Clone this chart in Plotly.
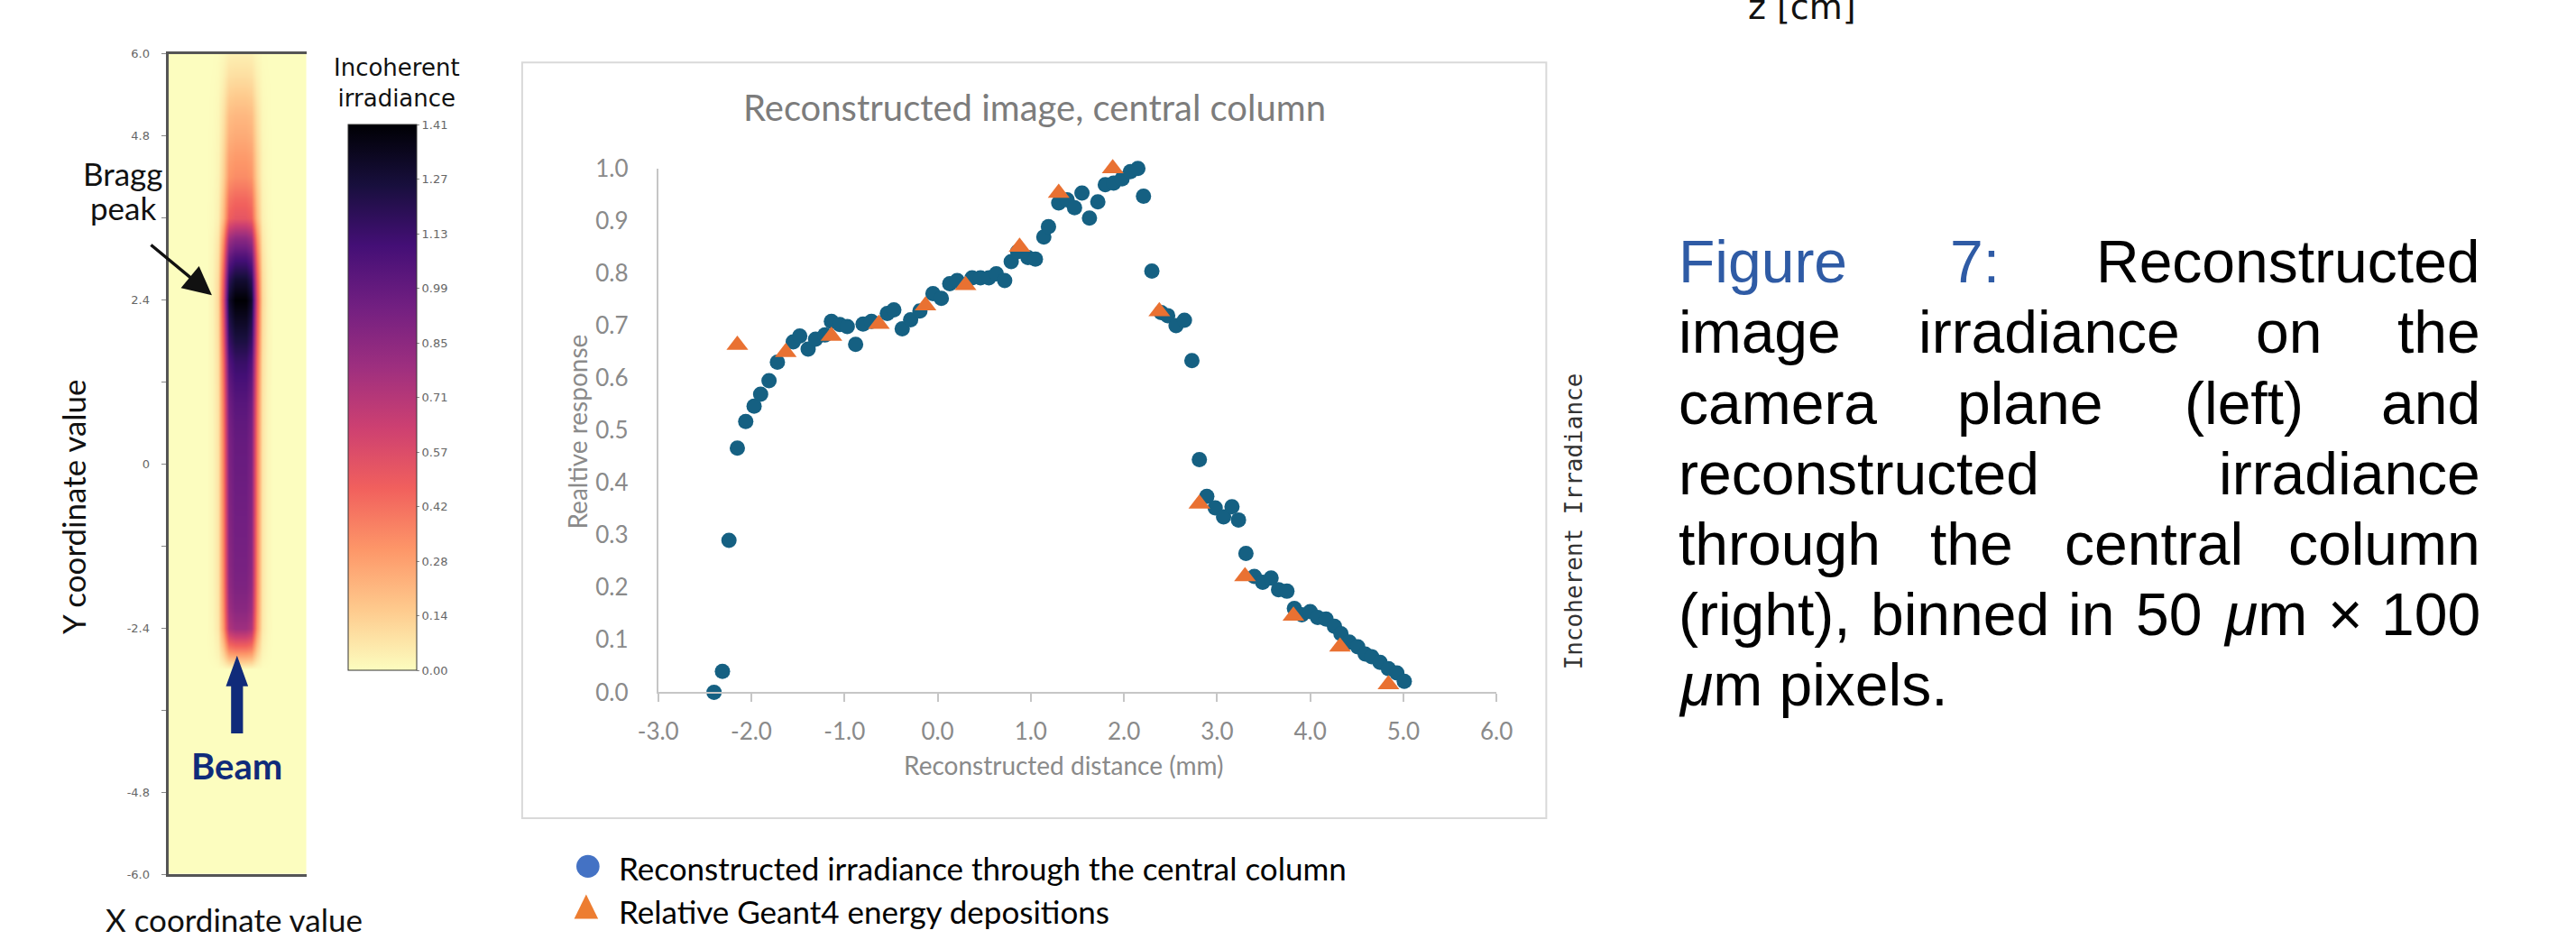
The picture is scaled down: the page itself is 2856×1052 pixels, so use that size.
import numpy as np
import plotly.graph_objects as go

W, H = 2856, 1052

# ---------------- data ----------------
# Right panel: reconstructed irradiance through the central column
recon_x = [-2.40, -2.31, -2.24, -2.15, -2.06, -1.97, -1.90, -1.81, -1.72, -1.55,
           -1.48, -1.39, -1.31, -1.21, -1.14, -1.05, -0.97, -0.88, -0.80, -0.71,
           -0.54, -0.47, -0.38, -0.29, -0.19, -0.05, 0.04, 0.13, 0.21, 0.37,
           0.46, 0.55, 0.63, 0.72, 0.79, 0.86, 0.97, 1.05, 1.14, 1.19,
           1.30, 1.39, 1.47, 1.55, 1.63, 1.72, 1.80, 1.89, 1.98, 2.07,
           2.15, 2.21, 2.30, 2.40, 2.47, 2.56, 2.65, 2.73, 2.81, 2.89,
           2.98, 3.07, 3.16, 3.23, 3.31, 3.40, 3.49, 3.58, 3.66, 3.75,
           3.83, 3.91, 4.00, 4.08, 4.17, 4.26, 4.33, 4.42, 4.51, 4.59,
           4.66, 4.75, 4.84, 4.93, 5.01]
recon_y = [0.000, 0.040, 0.290, 0.466, 0.517, 0.546, 0.569, 0.595, 0.630, 0.669,
           0.680, 0.655, 0.674, 0.682, 0.708, 0.702, 0.698, 0.664, 0.703, 0.708,
           0.723, 0.730, 0.694, 0.711, 0.728, 0.761, 0.752, 0.780, 0.786, 0.791,
           0.791, 0.791, 0.799, 0.786, 0.822, 0.841, 0.830, 0.827, 0.869, 0.889,
           0.934, 0.940, 0.925, 0.953, 0.905, 0.936, 0.969, 0.972, 0.980, 0.994,
           1.000, 0.947, 0.804, 0.725, 0.719, 0.700, 0.710, 0.633, 0.444, 0.374,
           0.352, 0.335, 0.354, 0.329, 0.265, 0.221, 0.210, 0.218, 0.196, 0.193,
           0.160, 0.148, 0.154, 0.143, 0.140, 0.126, 0.112, 0.096, 0.087, 0.073,
           0.068, 0.057, 0.045, 0.037, 0.021]

# Relative Geant4 energy depositions
geant_x = [-2.15, -1.63, -1.14, -0.63, -0.13, 0.30, 0.88, 1.30, 1.88, 2.38,
           2.81, 3.30, 3.82, 4.32, 4.84]
geant_y = [0.663, 0.649, 0.680, 0.703, 0.738, 0.777, 0.850, 0.953, 1.000, 0.727,
           0.360, 0.221, 0.146, 0.087, 0.015]

dist_ticks = [-3, -2, -1, 0, 1, 2, 3, 4, 5, 6]
dist_tick_labels = ["-3.0", "-2.0", "-1.0", "0.0", "1.0", "2.0", "3.0", "4.0", "5.0", "6.0"]
resp_ticks = [0.0, 0.1, 0.2, 0.3, 0.4, 0.5, 0.6, 0.7, 0.8, 0.9, 1.0]
resp_tick_labels = ["0.0", "0.1", "0.2", "0.3", "0.4", "0.5", "0.6", "0.7", "0.8", "0.9", "1.0"]

# Left panel: irradiance on the camera plane (beam profile)
heat_x = [-1.0, -0.92, -0.84, -0.76, -0.68, -0.6, -0.52, -0.44, -0.36, -0.28,
          -0.2, -0.12, -0.04, 0.04, 0.12, 0.2, 0.28, 0.36, 0.44, 0.52,
          0.6, 0.68, 0.76, 0.84, 0.92, 1.0]
heat_y = [-6.0, -5.7, -5.4, -5.1, -4.8, -4.5, -4.2, -3.9, -3.6, -3.3,
          -3.0, -2.7, -2.4, -2.1, -1.8, -1.5, -1.2, -0.9, -0.6, -0.3,
          0.0, 0.3, 0.6, 0.9, 1.2, 1.5, 1.8, 2.1, 2.4, 2.7,
          3.0, 3.3, 3.6, 3.9, 4.2, 4.5, 4.8, 5.1, 5.4, 5.7, 6.0]
beam_long = [0, 0, 0, 0, 0, 0, 0, 0, 0, 0,
             0, 0.42, 0.78, 0.86, 0.90, 0.92, 0.93, 0.94, 0.95, 0.96,
             0.97, 0.98, 1.00, 1.03, 1.08, 1.14, 1.24, 1.32, 1.41, 1.28,
             1.08, 0.85, 0.52, 0.44, 0.34, 0.30, 0.25, 0.21, 0.15, 0.09, 0.04]
beam_trans = [0, 0, 0, 0, 0, 0, 0, 0, 0.02, 0.08,
              0.40, 0.92, 1.0, 1.0, 1.0, 0.92, 0.40, 0.08, 0.02, 0,
              0, 0, 0, 0, 0, 0]
heat_ytick_vals = [-6.0, -4.8, -3.6, -2.4, -1.2, 0.0, 1.2, 2.4, 3.6, 4.8, 6.0]
heat_ytick_text = ["-6.0", "-4.8", "", "-2.4", "", "0", "", "2.4", "", "4.8", "6.0"]
cbar_labels = ["0.00", "0.14", "0.28", "0.42", "0.57", "0.71", "0.85", "0.99", "1.13", "1.27", "1.41"]
cbar_max = 1.41

# ---------------- helpers ----------------
def PX(x):
    return x / W


def PY(y):
    return 1 - y / H


annotations = []


def ann(text, x, y, size, color="#000", family="Lato", xanchor="center",
        yanchor="middle", angle=0):
    annotations.append(dict(text=text, x=PX(x), y=PY(y), xref="paper", yref="paper",
                            showarrow=False, xanchor=xanchor, yanchor=yanchor,
                            textangle=angle, borderpad=0,
                            font=dict(family=family, size=size, color=color)))


fig = go.Figure()

# ---------------- heatmap ----------------
z = np.outer(np.array(beam_long), np.array(beam_trans))
cbar_vals = list(np.linspace(0, cbar_max, len(cbar_labels)))
fig.add_trace(go.Heatmap(
    x=heat_x, y=heat_y, z=z, colorscale="magma_r", zmin=0, zmax=cbar_max,
    zsmooth="best", xaxis="x", yaxis="y", hoverinfo="skip",
    colorbar=dict(x=PX(368), xanchor="left", y=PY(125), yanchor="top",
                  len=605, lenmode="pixels", thickness=76, thicknessmode="pixels",
                  xpad=0, ypad=0, outlinewidth=1, outlinecolor="#333",
                  tickvals=cbar_vals, ticktext=cbar_labels, ticks="outside",
                  ticklen=3, tickcolor="#888",
                  tickfont=dict(family="DejaVu Sans", size=13, color="#666"))))

# ---------------- scatter ----------------
fig.add_trace(go.Scatter(x=recon_x, y=recon_y, mode="markers", xaxis="x2", yaxis="y2",
                         cliponaxis=False, name="Reconstructed irradiance",
                         marker=dict(color="#156082", size=17, line=dict(width=0))))
fig.add_trace(go.Scatter(x=geant_x, y=geant_y, mode="markers", xaxis="x2", yaxis="y2",
                         cliponaxis=False, name="Geant4",
                         marker=dict(color="#e97132", size=21, symbol="triangle-up",
                                     line=dict(width=0))))

GRAY = "#8a8a8a"
AXC = "#c6c6c6"

# ---------------- text ----------------
# left panel
ann("Incoherent<br>irradiance", 423, 77, 26, "#111", "DejaVu Sans")
ann("Bragg", 115, 181, 35, "#111")
ann("peak", 115, 220, 35, "#111")
ann("<b>Beam</b>", 243, 858, 40, "#102b7a")
ann("X coordinate value", 240, 1033, 35, "#111")
ann("Y coordinate value", 59, 562, 35, "#111", angle=-90)

# Bragg arrow (tail offset given in pixels)
annotations.append(dict(x=PX(215), y=PY(320), ax=146 - 215, ay=263 - 320,
                        xref="paper", yref="paper", axref="pixel", ayref="pixel",
                        text="", showarrow=True, arrowhead=2, arrowsize=1.8,
                        arrowwidth=3.5, arrowcolor="#111"))

# scatter panel
ann("Reconstructed image, central column", 1140, 105, 40, "#7c7c7c")
ann("Realtive response", 626, 476, 28, GRAY, angle=-90)
ann("Reconstructed distance (mm)", 1173, 857, 28, GRAY)
ann("Reconstructed irradiance through the central column", 672, 975, 35, "#000", xanchor="left")
ann("Relative Geant4 energy depositions", 672, 1024, 35, "#000", xanchor="left")

# right side
ann("Incoherent Irradiance", 1747, 578, 26, "#333", "DejaVu Sans Mono", angle=-90)
ann("z [cm]", 2004, -9, 38, "#111", "DejaVu Sans")

# justified caption
ARIAL = {" ": 278, "(": 333, ")": 333, ",": 278, ".": 278, ":": 278, "×": 584,
         "F": 611, "R": 722, "a": 556, "b": 556, "c": 500, "d": 556, "e": 556,
         "f": 278, "g": 556, "h": 556, "i": 222, "l": 222, "m": 833, "n": 556,
         "o": 556, "p": 556, "r": 333, "s": 500, "t": 278, "u": 556, "x": 500,
         "μ": 576}
for dgt in "0123456789":
    ARIAL[dgt] = 556

caption_lines = ["Figure 7: Reconstructed", "image irradiance on the",
                 "camera plane (left) and", "reconstructed irradiance",
                 "through the central column", "(right), binned in 50 μm × 100",
                 "μm pixels."]
CAP_L, CAP_R, CAP_SIZE = 1864, 2768, 66
BLUE = "#2f5ba5"


def wwidth(word):
    return sum(ARIAL.get(ch, 556) for ch in word) / 1000 * CAP_SIZE


def fmt(word):
    return word.replace("μ", "<i>μ</i>")


for i, line in enumerate(caption_lines):
    yc = 305 + 80.5 * i - 23
    words = line.split(" ")
    if i == len(caption_lines) - 1:
        ann(fmt(line), CAP_L, yc, CAP_SIZE, "#000", "Liberation Sans", xanchor="left")
        continue
    widths = [wwidth(w) for w in words]
    gap = (CAP_R - CAP_L - sum(widths)) / (len(words) - 1)
    xpos = CAP_L
    for j, w in enumerate(words):
        col = BLUE if (i == 0 and j < 2) else "#000"
        if j == len(words) - 1:
            ann(fmt(w), CAP_R, yc, CAP_SIZE, col, "Liberation Sans", xanchor="right")
        else:
            ann(fmt(w), xpos, yc, CAP_SIZE, col, "Liberation Sans", xanchor="left")
        xpos += widths[j] + gap

# ---------------- shapes ----------------
shapes = []
# chart frame
shapes.append(dict(type="rect", xref="paper", yref="paper", x0=PX(564), x1=PX(1716),
                   y0=PY(918), y1=PY(54), line=dict(color="#d9d9d9", width=2),
                   layer="below"))
# beam arrow
bx = 243.3
beam_path = (f"M {PX(bx - 6.7)} {PY(821)} L {PX(bx + 6.7)} {PY(821)} "
             f"L {PX(bx + 6.7)} {PY(767)} L {PX(bx + 12.5)} {PY(767)} "
             f"L {PX(bx)} {PY(732)} L {PX(bx - 12.5)} {PY(767)} "
             f"L {PX(bx - 6.7)} {PY(767)} Z")
shapes.append(dict(type="path", xref="paper", yref="paper", path=beam_path,
                   fillcolor="#102b7a", line=dict(width=0)))
# legend glyphs
shapes.append(dict(type="circle", xref="paper", yref="paper", x0=PX(625), x1=PX(651),
                   y0=PY(986), y1=PY(960), fillcolor="#4472c4", line=dict(width=0)))
tri = (f"M {PX(636)} {PY(1005)} L {PX(649.5)} {PY(1033)} L {PX(622.5)} {PY(1033)} Z")
shapes.append(dict(type="path", xref="paper", yref="paper", path=tri,
                   fillcolor="#ed7d31", line=dict(width=0)))

fig.update_layout(
    width=W, height=H, margin=dict(l=0, r=0, t=0, b=0),
    paper_bgcolor="white", plot_bgcolor="white", showlegend=False,
    xaxis=dict(domain=[PX(166), PX(321.5)], range=[-1, 1], anchor="y",
               showline=True, linecolor="#555", linewidth=3, mirror=True,
               showticklabels=False, ticks="", showgrid=False, zeroline=False),
    yaxis=dict(domain=[PY(982), PY(44)], range=[-6, 6], anchor="x",
               showline=True, linecolor="#555", linewidth=3,
               tickvals=heat_ytick_vals, ticktext=heat_ytick_text,
               ticks="outside", ticklen=5, tickcolor="#888", tickwidth=1,
               tickfont=dict(family="DejaVu Sans", size=13, color="#666"),
               ticklabelstandoff=10, showgrid=False, zeroline=False),
    xaxis2=dict(domain=[PX(717), PX(1660)], range=[-3, 6], anchor="y2",
                showline=True, linecolor=AXC, linewidth=2, ticks="outside",
                ticklen=9, tickwidth=2, tickcolor=AXC, tickvals=dist_ticks,
                ticktext=dist_tick_labels, ticklabelstandoff=10,
                tickfont=dict(family="Lato", size=26, color=GRAY),
                showgrid=False, zeroline=False),
    yaxis2=dict(domain=[PY(774), PY(175)], range=[0, 1], anchor="x2",
                showline=True, linecolor=AXC, linewidth=2, ticks="",
                tickvals=resp_ticks, ticktext=resp_tick_labels, ticklabelstandoff=26,
                tickfont=dict(family="Lato", size=26, color=GRAY),
                showgrid=False, zeroline=False),
    annotations=annotations,
    shapes=shapes,
)

fig.write_html("out.html")
